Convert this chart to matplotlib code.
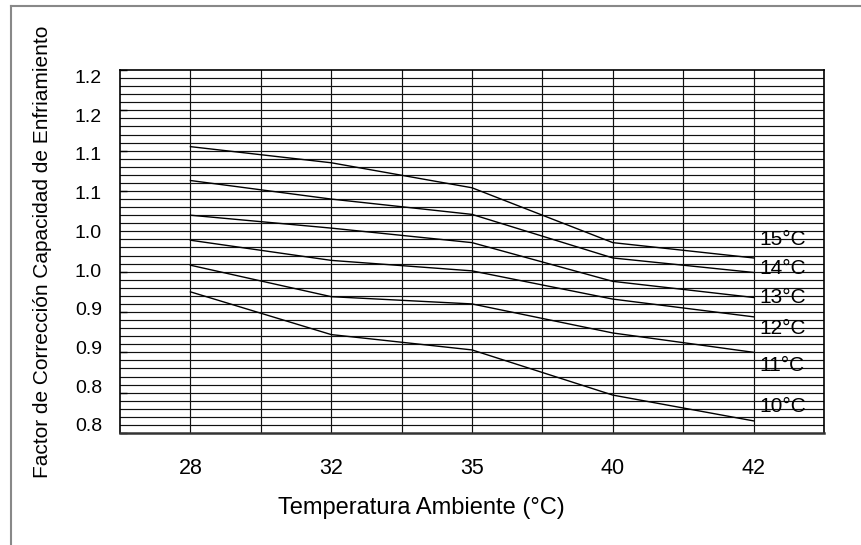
import matplotlib
matplotlib.use("Agg")
import matplotlib.pyplot as plt
from matplotlib.lines import Line2D
import numpy as np

plt.rcParams['font.family'] = ['Liberation Sans', 'DejaVu Sans']

# ====== DATA =======
temps = ["28", "32", "35", "40", "42"]
series_names = ["15", "14", "13", "12", "11", "10"]

f_15 = [1.155, 1.135, 1.104, 1.036, 1.017]
f_14 = [1.113, 1.090, 1.071, 1.017, 0.999]
f_13 = [1.070, 1.054, 1.036, 0.988, 0.968]
f_12 = [1.039, 1.014, 1.001, 0.966, 0.944]
f_11 = [1.008, 0.969, 0.960, 0.924, 0.900]
f_10 = [0.975, 0.922, 0.903, 0.847, 0.815]
series = [f_15, f_14, f_13, f_12, f_11, f_10]

y_ticks = [0.80, 0.85, 0.90, 0.95, 1.00, 1.05, 1.10, 1.15, 1.20, 1.25]
y_tick_labels = ["0.8", "0.8", "0.9", "0.9", "1.0", "1.0", "1.1", "1.1", "1.2", "1.2"]

# layout only: where the tick labels and line labels sit
label_pos = np.linspace(0.81, 1.242, len(y_tick_labels))
label_y = [1.040, 1.004, 0.968, 0.930, 0.884, 0.833]

# ====== PLOT =======
fig = plt.figure(figsize=(8.62, 5.45), dpi=100)
ax = fig.add_axes([120 / 862, 1 - 433 / 545, 704 / 862, 363 / 545])

x = np.arange(len(temps))
for vals in series:
    ax.plot(x, vals, color="black", lw=1.0, zorder=3)

ax.set_xlim(-0.5, len(temps) - 0.5)
ax.set_ylim(0.80, 1.25)

# grid: vertical every half category, horizontal every 0.01
for xv in np.arange(0, len(temps) - 0.25, 0.5):
    ax.axvline(xv, color="#111111", lw=0.85, zorder=1)
for yv in np.arange(0.81, 1.245, 0.01):
    ax.axhline(yv, color="#111111", lw=0.85, zorder=1)

ax.set_xticks(x)
ax.set_xticklabels(temps, fontsize=15.5)
ax.tick_params(axis="x", length=0, pad=18)

ax.set_yticks(label_pos)
ax.set_yticklabels(y_tick_labels, fontsize=14)
ax.tick_params(axis="y", which="major", length=0, pad=13)
ax.set_yticks(y_ticks, minor=True)
ax.tick_params(axis="y", which="minor", direction="in", length=5, width=1)

for sp in ax.spines.values():
    sp.set_color("black")
    sp.set_linewidth(1.2)
ax.spines["bottom"].set_color("#333333")
ax.spines["bottom"].set_linewidth(1.8)

for name, ly in zip(series_names, label_y):
    ax.annotate(name + "°C", xy=(x[-1], ly),
                xytext=(4, 0), textcoords="offset points",
                ha="left", va="center", fontsize=15, zorder=4)

ax.set_xlabel("Temperatura Ambiente (°C)", fontsize=17)
ax.xaxis.set_label_coords((421 - 120) / 704, -0.176)
ax.set_ylabel("Factor de Corrección Capacidad de Enfriamiento", fontsize=15)
ax.yaxis.set_label_coords(-(120 - 52) / 704, 0.5)

# outer gray frame (left and top only)
fx = 11 / 862
fy = 1 - 6 / 545
fig.add_artist(Line2D([fx, fx], [0, fy], color="#888888", lw=1.5, transform=fig.transFigure))
fig.add_artist(Line2D([fx, 1], [fy, fy], color="#888888", lw=1.5, transform=fig.transFigure))

fig.savefig("out.png", dpi=100)
